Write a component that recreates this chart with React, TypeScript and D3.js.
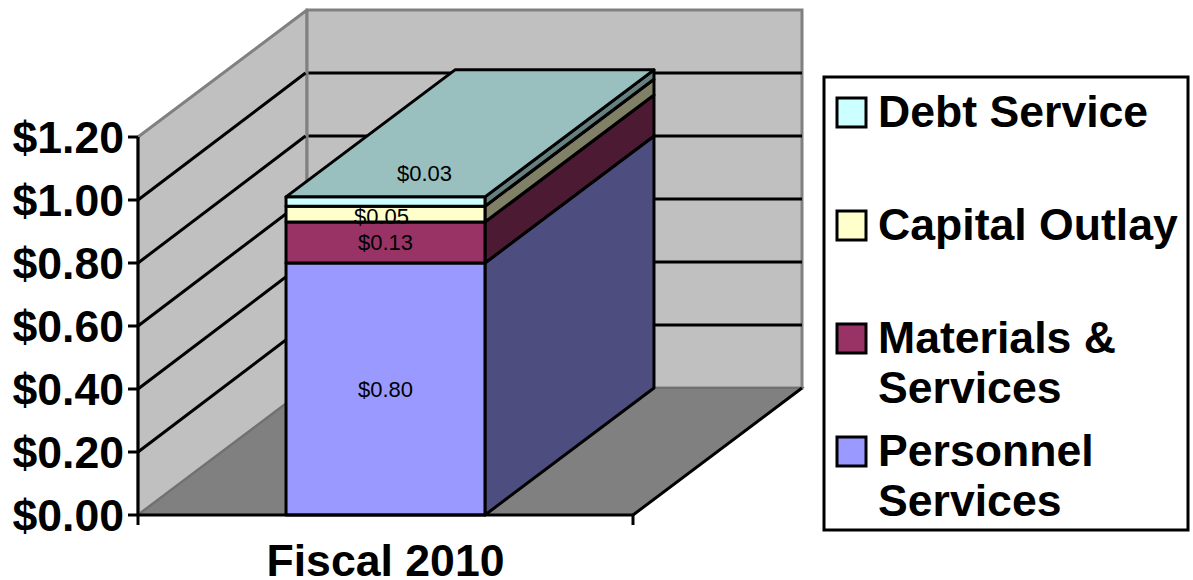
import React from "react";
import * as d3 from "d3";

const seriesNames = ["Personnel Services", "Materials & Services", "Capital Outlay", "Debt Service"];
const seriesValues = [0.8, 0.13, 0.05, 0.03];
const seriesLabels = ["$0.80", "$0.13", "$0.05", "$0.03"];
const frontColors = ["#9999FF", "#993366", "#FFFFCC", "#CCFFFF"];
const sideColors = ["#4D4D80", "#4D1A33", "#808066", "#668080"];
const topColor = "#99BFBF";
const category = "Fiscal 2010";
const tickValues = [0, 0.2, 0.4, 0.6, 0.8, 1.0, 1.2];
const labelShift = [[0, 0], [0, 0], [-4, 2], [39, -28]];
const legendRows = [
  { name: "Debt Service", lines: ["Debt Service"], fill: 3, y: 112 },
  { name: "Capital Outlay", lines: ["Capital Outlay"], fill: 2, y: 225 },
  { name: "Materials & Services", lines: ["Materials &", "Services"], fill: 1, y: 338 },
  { name: "Personnel Services", lines: ["Personnel", "Services"], fill: 0, y: 451 },
];

const FONT = "'Liberation Sans', Arial, sans-serif";
const BIG = 44.6;
const y = d3.scaleLinear().domain([0, 1.2]).range([515, 137]);
const x = d3.scaleBand().domain([category]).range([138, 633]).paddingInner(0).paddingOuter(0.744);
const depthX = 169;
const depthY = -127;
const money = d3.format("$.2f");
const poly = (pts: number[][]) => pts.map((p) => p.join(",")).join(" ");

export default function App() {
  const x0 = x(category)!;
  const x1 = x0 + x.bandwidth();
  const stack = d3.cumsum(seriesValues);
  const [left, right] = x.range();
  const floorY = y(0);
  const topY = y(1.2);
  return (
    <svg width={1193} height={580} style={{ position: "absolute", left: 0, top: 0, background: "#fff" }}>
      {/* walls and floor */}
      <polygon
        points={poly([[left, floorY], [left, topY], [left + depthX, topY + depthY], [left + depthX, floorY + depthY]])}
        fill="#C0C0C0" stroke="#808080" strokeWidth={3} strokeLinejoin="round"
      />
      <polygon
        points={poly([[left + depthX, floorY + depthY], [left + depthX, topY + depthY], [right + depthX, topY + depthY], [right + depthX, floorY + depthY]])}
        fill="#C0C0C0" stroke="#808080" strokeWidth={3}
      />
      <polygon
        points={poly([[left, floorY], [left + depthX, floorY + depthY], [right + depthX, floorY + depthY], [right, floorY]])}
        fill="#808080" stroke="#707070" strokeWidth={2}
      />
      {/* gridlines */}
      {tickValues.slice(1, -1).map((t) => (
        <g key={t} stroke="#000" strokeWidth={3} fill="none">
          <line x1={left} y1={y(t)} x2={left + depthX - 1.5} y2={y(t) + depthY} />
          <line x1={left + depthX + 1.5} y1={y(t) + depthY} x2={right + depthX} y2={y(t) + depthY} />
        </g>
      ))}
      <line x1={right} y1={floorY} x2={right + depthX} y2={floorY + depthY} stroke="#000" strokeWidth={3} />

      {/* stacked block */}
      {seriesValues.map((v, i) => {
        const yb = y(i === 0 ? 0 : stack[i - 1]);
        const yt = y(stack[i]);
        return (
          <g key={seriesNames[i]} stroke="#000" strokeWidth={3} strokeLinejoin="round">
            <polygon points={poly([[x1, yb], [x1, yt], [x1 + depthX, yt + depthY], [x1 + depthX, yb + depthY]])} fill={sideColors[i]} />
            <rect x={x0} y={yt} width={x1 - x0} height={yb - yt} fill={frontColors[i]} />
          </g>
        );
      })}
      <polygon
        points={poly([[x0, y(stack[3])], [x0 + depthX, y(stack[3]) + depthY], [x1 + depthX, y(stack[3]) + depthY], [x1, y(stack[3])]])}
        fill={topColor} stroke="#000" strokeWidth={3} strokeLinejoin="round"
      />
      {seriesValues.map((v, i) => (
        <text
          key={seriesLabels[i]}
          x={(x0 + x1) / 2 + labelShift[i][0]}
          y={y((i === 0 ? 0 : stack[i - 1]) + v / 2) + labelShift[i][1]}
          dy="0.36em"
          textAnchor="middle"
          fontFamily={FONT}
          fontSize={22}
          fill="#000"
        >
          {seriesLabels[i]}
        </text>
      ))}

      {/* axes */}
      <line x1={left} y1={topY} x2={left} y2={floorY} stroke="#000" strokeWidth={3} />
      <line x1={left} y1={floorY} x2={right} y2={floorY} stroke="#000" strokeWidth={3} />
      {[left, right].map((p) => (
        <line key={p} x1={p} y1={floorY} x2={p} y2={floorY + 10} stroke="#000" strokeWidth={3} />
      ))}
      {tickValues.map((t) => (
        <g key={t}>
          <line x1={left - 10} y1={y(t)} x2={left} y2={y(t)} stroke="#000" strokeWidth={3} />
          <text x={124} y={y(t)} dy="0.36em" textAnchor="end" fontFamily={FONT} fontWeight="bold" fontSize={BIG}>
            {money(t)}
          </text>
        </g>
      ))}
      <text x={(left + right) / 2} y={576} textAnchor="middle" fontFamily={FONT} fontWeight="bold" fontSize={BIG}>
        {category}
      </text>

      {/* legend */}
      <rect x={824} y={77} width={364} height={453} fill="#fff" stroke="#000" strokeWidth={3} />
      {legendRows.map((row) => (
        <g key={row.name}>
          <rect x={837} y={row.y - 14} width={29} height={29} fill={frontColors[row.fill]} stroke="#000" strokeWidth={3} />
          {row.lines.map((line, j) => (
            <text key={line} x={878} y={row.y + 15 + j * 50} fontFamily={FONT} fontWeight="bold" fontSize={BIG}>
              {line}
            </text>
          ))}
        </g>
      ))}
    </svg>
  );
}
